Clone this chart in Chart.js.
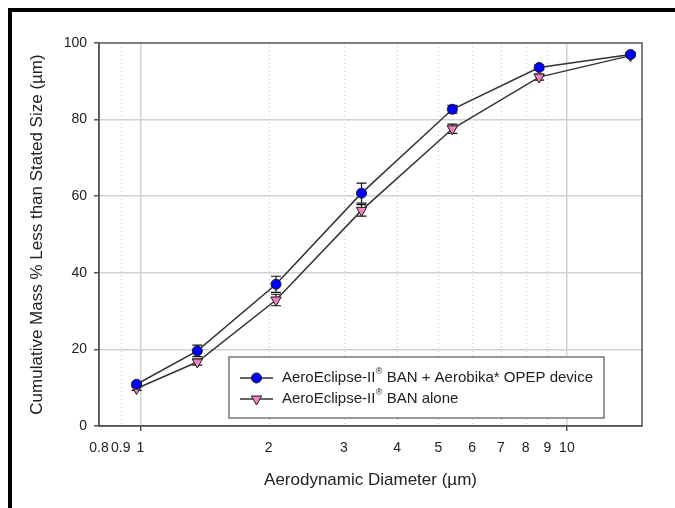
<!DOCTYPE html>
<html>
<head>
<meta charset="utf-8">
<title>Cumulative mass vs aerodynamic diameter</title>
<script src="https://cdn.jsdelivr.net/npm/chart.js@4"></script>
<style>
    html, body { margin: 0; padding: 0; background: #fff; }
    #wrap { position: relative; width: 675px; height: 508px; overflow: hidden; }
    #psd { position: absolute; left: 0; top: 0; }
    #frame { position: absolute; left: 8px; top: 8px; width: 700px; height: 600px;
             border-top: 4px solid #000; border-left: 4px solid #000; pointer-events: none; }
</style>
</head>
<body>
<div id="wrap">
    <canvas id="psd" width="675" height="508"></canvas>
    <div id="frame"></div>
</div>
<script>
// NGI stage cut-off diameters (µm) and cumulative mass %
const diameters = [0.98, 1.36, 2.08, 3.30, 5.39, 8.61, 14.1];
const withOpep = [10.9, 19.6, 37.0, 60.8, 82.7, 93.6, 97.0];
const withOpepErr = [0.6, 1.5, 2.1, 2.6, 1.0, 0.6, 0.3];
const banAlone = [9.8, 16.7, 32.9, 56.3, 77.6, 91.1, 96.7];
const banAloneErr = [0.5, 0.8, 1.5, 1.5, 1.2, 0.8, 0.4];

const xTicks = [0.8, 0.9, 1, 2, 3, 4, 5, 6, 7, 8, 9, 10];
const xMajor = [1, 10];
const yTicks = [0, 20, 40, 60, 80, 100];

const legendLabels = [
    ['AeroEclipse-II', '®', ' BAN + Aerobika* OPEP device'],
    ['AeroEclipse-II', '®', ' BAN alone']
];

const FONT = "'Liberation Sans', Arial, sans-serif";
const AXIS = '#555';
const GRID = '#d2d2d2';

const toPoints = vals => vals.map((v, i) => ({ x: diameters[i], y: v }));

// dotted minor grid + error bars, under the markers
const underlay = {
    id: 'underlay',
    beforeDatasetsDraw(chart) {
        const { ctx, chartArea: a, scales: { x, y } } = chart;
        ctx.save();
        ctx.strokeStyle = '#c8c8c8';
        ctx.lineWidth = 1;
        ctx.setLineDash([1, 3]);
        xTicks.filter(v => !xMajor.includes(v) && v > x.min).forEach(v => {
            const px = Math.round(x.getPixelForValue(v)) + 0.5;
            ctx.beginPath();
            ctx.moveTo(px, a.top);
            ctx.lineTo(px, a.bottom);
            ctx.stroke();
        });
        ctx.setLineDash([]);
        ctx.strokeStyle = '#111';
        ctx.lineWidth = 1.2;
        chart.data.datasets.forEach(ds => {
            ds.data.forEach((p, i) => {
                const e = ds.errors[i];
                const px = x.getPixelForValue(p.x);
                const top = y.getPixelForValue(p.y + e);
                const bot = y.getPixelForValue(p.y - e);
                ctx.beginPath();
                ctx.moveTo(px, top); ctx.lineTo(px, bot);
                ctx.moveTo(px - 5, top); ctx.lineTo(px + 5, top);
                ctx.moveTo(px - 5, bot); ctx.lineTo(px + 5, bot);
                ctx.stroke();
            });
        });
        ctx.restore();
    }
};

// plot frame and legend
const overlay = {
    id: 'overlay',
    afterDatasetsDraw(chart) {
        const { ctx, chartArea: a } = chart;
        ctx.save();
        ctx.strokeStyle = AXIS;
        ctx.lineWidth = 1.5;
        ctx.strokeRect(a.left, a.top, a.right - a.left, a.bottom - a.top);

        const bx = 229, by = 357, bw = 375, bh = 61;
        ctx.fillStyle = '#fff';
        ctx.fillRect(bx, by, bw, bh);
        ctx.strokeStyle = '#777';
        ctx.strokeRect(bx, by, bw, bh);

        chart.data.datasets.forEach((ds, i) => {
            const ly = by + 21 + i * 21;
            ctx.strokeStyle = ds.borderColor;
            ctx.lineWidth = 1.5;
            ctx.beginPath();
            ctx.moveTo(240, ly); ctx.lineTo(273, ly);
            ctx.stroke();
            ctx.fillStyle = ds.pointBackgroundColor;
            ctx.strokeStyle = ds.pointBorderColor;
            ctx.lineWidth = ds.pointBorderWidth;
            Chart.helpers.drawPoint(ctx, {
                pointStyle: ds.pointStyle, rotation: ds.pointRotation,
                radius: ds.pointRadius, borderWidth: ds.pointBorderWidth
            }, 256.5, ly);

            const [a1, sup, a2] = legendLabels[i];
            let tx = 282;
            ctx.fillStyle = '#222';
            ctx.textBaseline = 'middle';
            ctx.font = '15px ' + FONT;
            ctx.fillText(a1, tx, ly);
            tx += ctx.measureText(a1).width;
            ctx.font = '9px ' + FONT;
            ctx.fillText(sup, tx + 0.5, ly - 6);
            tx += ctx.measureText(sup).width + 0.5;
            ctx.font = '15px ' + FONT;
            ctx.fillText(a2, tx, ly);
        });
        ctx.restore();
    }
};

new Chart(document.getElementById('psd'), {
    type: 'line',
    data: {
        datasets: [{
            label: 'AeroEclipse-II® BAN + Aerobika* OPEP device',
            data: toPoints(withOpep),
            errors: withOpepErr,
            borderColor: '#333',
            borderWidth: 1.5,
            pointStyle: 'circle',
            pointRotation: 0,
            pointRadius: 5,
            pointBackgroundColor: '#0000ff',
            pointBorderColor: '#1a1a1a',
            pointBorderWidth: 1
        }, {
            label: 'AeroEclipse-II® BAN alone',
            data: toPoints(banAlone),
            errors: banAloneErr,
            borderColor: '#333',
            borderWidth: 1.5,
            pointStyle: 'triangle',
            pointRotation: 180,
            pointRadius: 6,
            pointBackgroundColor: '#f483bd',
            pointBorderColor: '#1a1a1a',
            pointBorderWidth: 1
        }]
    },
    options: {
        responsive: false,
        animation: false,
        layout: { padding: { left: 0, top: 43, right: 33, bottom: 0 } },
        plugins: { legend: { display: false }, tooltip: { enabled: false } },
        scales: {
            x: {
                type: 'logarithmic',
                min: 0.8,
                max: 15,
                afterBuildTicks: s => { s.ticks = xTicks.map(v => ({ value: v })); },
                afterFit: s => { s.height = 82; },
                border: { color: AXIS, width: 1.5 },
                grid: {
                    color: c => xMajor.includes(c.tick && c.tick.value) ? GRID : 'transparent',
                    lineWidth: 1.5,
                    tickLength: 5,
                    tickColor: c => xMajor.includes(c.tick && c.tick.value) ? AXIS : 'transparent'
                },
                ticks: {
                    autoSkip: false,
                    maxRotation: 0,
                    padding: 9,
                    color: '#222',
                    font: { family: FONT, size: 14 },
                    callback: v => String(v)
                },
                title: {
                    display: true,
                    text: 'Aerodynamic Diameter (µm)',
                    color: '#222',
                    font: { family: FONT, size: 17 },
                    padding: { top: 0, bottom: 17 }
                }
            },
            y: {
                min: 0,
                max: 100,
                afterBuildTicks: s => { s.ticks = yTicks.map(v => ({ value: v })); },
                afterFit: s => { s.width = 99; },
                border: { color: AXIS, width: 1.5 },
                grid: {
                    color: c => (c.tick && (c.tick.value === 0 || c.tick.value === 100)) ? 'transparent' : GRID,
                    lineWidth: 1.5,
                    tickLength: 5,
                    tickColor: AXIS
                },
                ticks: {
                    padding: 7,
                    color: '#222',
                    font: { family: FONT, size: 14 }
                },
                title: {
                    display: true,
                    text: 'Cumulative Mass % Less than Stated Size (µm)',
                    color: '#222',
                    font: { family: FONT, size: 17 },
                    padding: { top: 27, bottom: 0 }
                }
            }
        }
    },
    plugins: [underlay, overlay]
});
</script>
</body>
</html>
